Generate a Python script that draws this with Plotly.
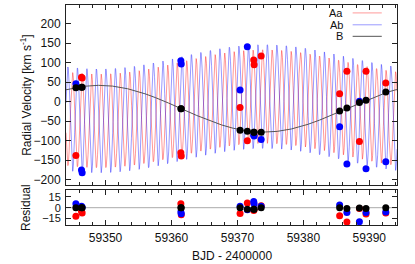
import numpy as np
import plotly.graph_objects as go

t_obs = [59345.5, 59346.35, 59346.45, 59361.42, 59361.48, 59370.4, 59371.5,
         59372.47, 59372.53, 59373.6, 59385.5, 59386.6, 59388.5, 59389.5, 59392.5]
rv_aa = [-138, 63, 61, -131, -139, -15, -100, 107, 95, 117, 20.5, 78, -102, 78, 48]
rv_ab = [46, -175, -182, 105, 97, 30, 141, -86, -88, -97, -64, -160, 1, -172, -154]
rv_b = [36, 37, 37, -18, -18, -73, -76, -78, -78, -78, -24, -16, -2, 4, 25]
res_aa = [-11.7, -5, -7.5, 5.5, -9.7, -8, 6.4, -3.8, -3, 2.8, -11, -20, -1, -8.9, -7.5]
res_ab = [5.5, 2, 0.5, -6, -8.5, 2, -3, 8.7, 5.5, 2, 3.7, -6.5, -19.5, -6.5, -6]
res_b = [0, 0, 0, 0, 0, 0, -2, -2, -2, 0, 0, -1, -0.5, -1, 0]

names = ["Aa", "Ab", "B"]

# ---- orbital model parameters ----
P_OUT, T_MAX_OUT, K_B, GAMMA, MASS_RATIO = 50.0, 59349.0, 60.0, -18.0, 0.52
P_IN, T_PEAK_AB, K_AA, K_AB = 1.4404, 59344.29, 120.0, 133.0
X_RANGE = [59344.0, 59394.2]

t = np.linspace(X_RANGE[0], X_RANGE[1], 8000)
model_b = GAMMA + K_B * np.cos(2 * np.pi * (t - T_MAX_OUT) / P_OUT)
com_a = GAMMA - MASS_RATIO * (model_b - GAMMA)
ph = np.cos(2 * np.pi * (t - T_PEAK_AB) / P_IN)
model_ab = com_a + K_AB * ph
model_aa = com_a - K_AA * ph

c_aa_line = "rgba(255,0,0,0.4)"
c_ab_line = "rgba(0,0,255,0.4)"
c_b_line = "#555555"

fig = go.Figure()
fig.add_trace(go.Scatter(x=t, y=model_aa, mode="lines", line=dict(color=c_aa_line, width=1), name=names[0]))
fig.add_trace(go.Scatter(x=t, y=model_ab, mode="lines", line=dict(color=c_ab_line, width=1), name=names[1]))
fig.add_trace(go.Scatter(x=t, y=model_b, mode="lines", line=dict(color=c_b_line, width=1), name=names[2]))

mk = 7
fig.add_trace(go.Scatter(x=t_obs, y=rv_aa, mode="markers", marker=dict(color="#ff0000", size=mk)))
fig.add_trace(go.Scatter(x=t_obs, y=rv_ab, mode="markers", marker=dict(color="#0000ff", size=mk)))
fig.add_trace(go.Scatter(x=t_obs, y=rv_b, mode="markers", marker=dict(color="#000000", size=mk)))

fig.add_trace(go.Scatter(x=t_obs, y=res_aa, mode="markers", marker=dict(color="#ff0000", size=mk), xaxis="x2", yaxis="y2"))
fig.add_trace(go.Scatter(x=t_obs, y=res_ab, mode="markers", marker=dict(color="#0000ff", size=mk), xaxis="x2", yaxis="y2"))
fig.add_trace(go.Scatter(x=t_obs, y=res_b, mode="markers", marker=dict(color="#000000", size=mk), xaxis="x2", yaxis="y2"))

axis_common = dict(showline=True, linecolor="#222", linewidth=1, mirror="ticks", ticks="inside",
                   tickcolor="#222", ticklen=5, showgrid=False, zeroline=False, automargin=False)
xminor = dict(dtick=2, ticklen=3, ticks="inside", tickcolor="#222", showgrid=False)

fig.update_layout(
    width=415, height=264,
    margin=dict(l=66, r=18, t=5, b=39),
    paper_bgcolor="white", plot_bgcolor="white",
    showlegend=False,
    font=dict(family="Liberation Sans, Arial, sans-serif", size=12, color="#111"),
    xaxis=dict(domain=[0, 1], range=X_RANGE, anchor="y", tick0=59350, dtick=10,
               showticklabels=False, minor=xminor, **axis_common),
    yaxis=dict(domain=[0.1818, 1.0], range=[-213.6, 248], anchor="x", tick0=0, dtick=50,
               ticklabelstandoff=2, **axis_common),
    xaxis2=dict(domain=[0, 1], range=X_RANGE, anchor="y2", tick0=59350, dtick=10, tickformat="d",
                minor=xminor, ticklabelstandoff=2, **axis_common),
    yaxis2=dict(domain=[0, 0.1606], range=[-24, 25], anchor="x2", tickvals=[-15, 0, 15],
                tickfont=dict(size=11), ticklabelstandoff=2, **axis_common),
)

# residual zero line
fig.add_shape(type="line", xref="x2 domain", yref="y2", x0=0, x1=1, y0=0, y1=0,
              line=dict(color="#aaaaaa", width=1), layer="below")

# axis titles
fig.add_annotation(text="Radial Velocity [km s<sup>-1</sup>]", xref="paper", yref="paper",
                   x=-0.119, y=0.59, textangle=-90, showarrow=False, xanchor="center", yanchor="middle")
fig.add_annotation(text="Residual", xref="paper", yref="paper",
                   x=-0.119, y=0.08, textangle=-90, showarrow=False, xanchor="center", yanchor="middle")
fig.add_annotation(text="BJD - 2400000", xref="paper", yref="paper",
                   x=0.5, y=-0.141, showarrow=False, xanchor="center", yanchor="middle")

# key (gnuplot style: text then line sample)
key_y = [0.956, 0.89, 0.826]
key_c = [c_aa_line, c_ab_line, c_b_line]
for nm, yy, cc in zip(names, key_y, key_c):
    fig.add_annotation(text=nm, xref="x domain", yref="y domain", x=0.84, y=yy,
                       showarrow=False, xanchor="right", yanchor="middle", font=dict(size=11),
                       borderpad=0)
    fig.add_shape(type="line", xref="x domain", yref="y domain", x0=0.866, x1=0.954, y0=yy, y1=yy,
                  line=dict(color=cc, width=1))

fig.write_html("out.html", config={"displayModeBar": False},
               post_script="document.body.style.margin='0px';")
